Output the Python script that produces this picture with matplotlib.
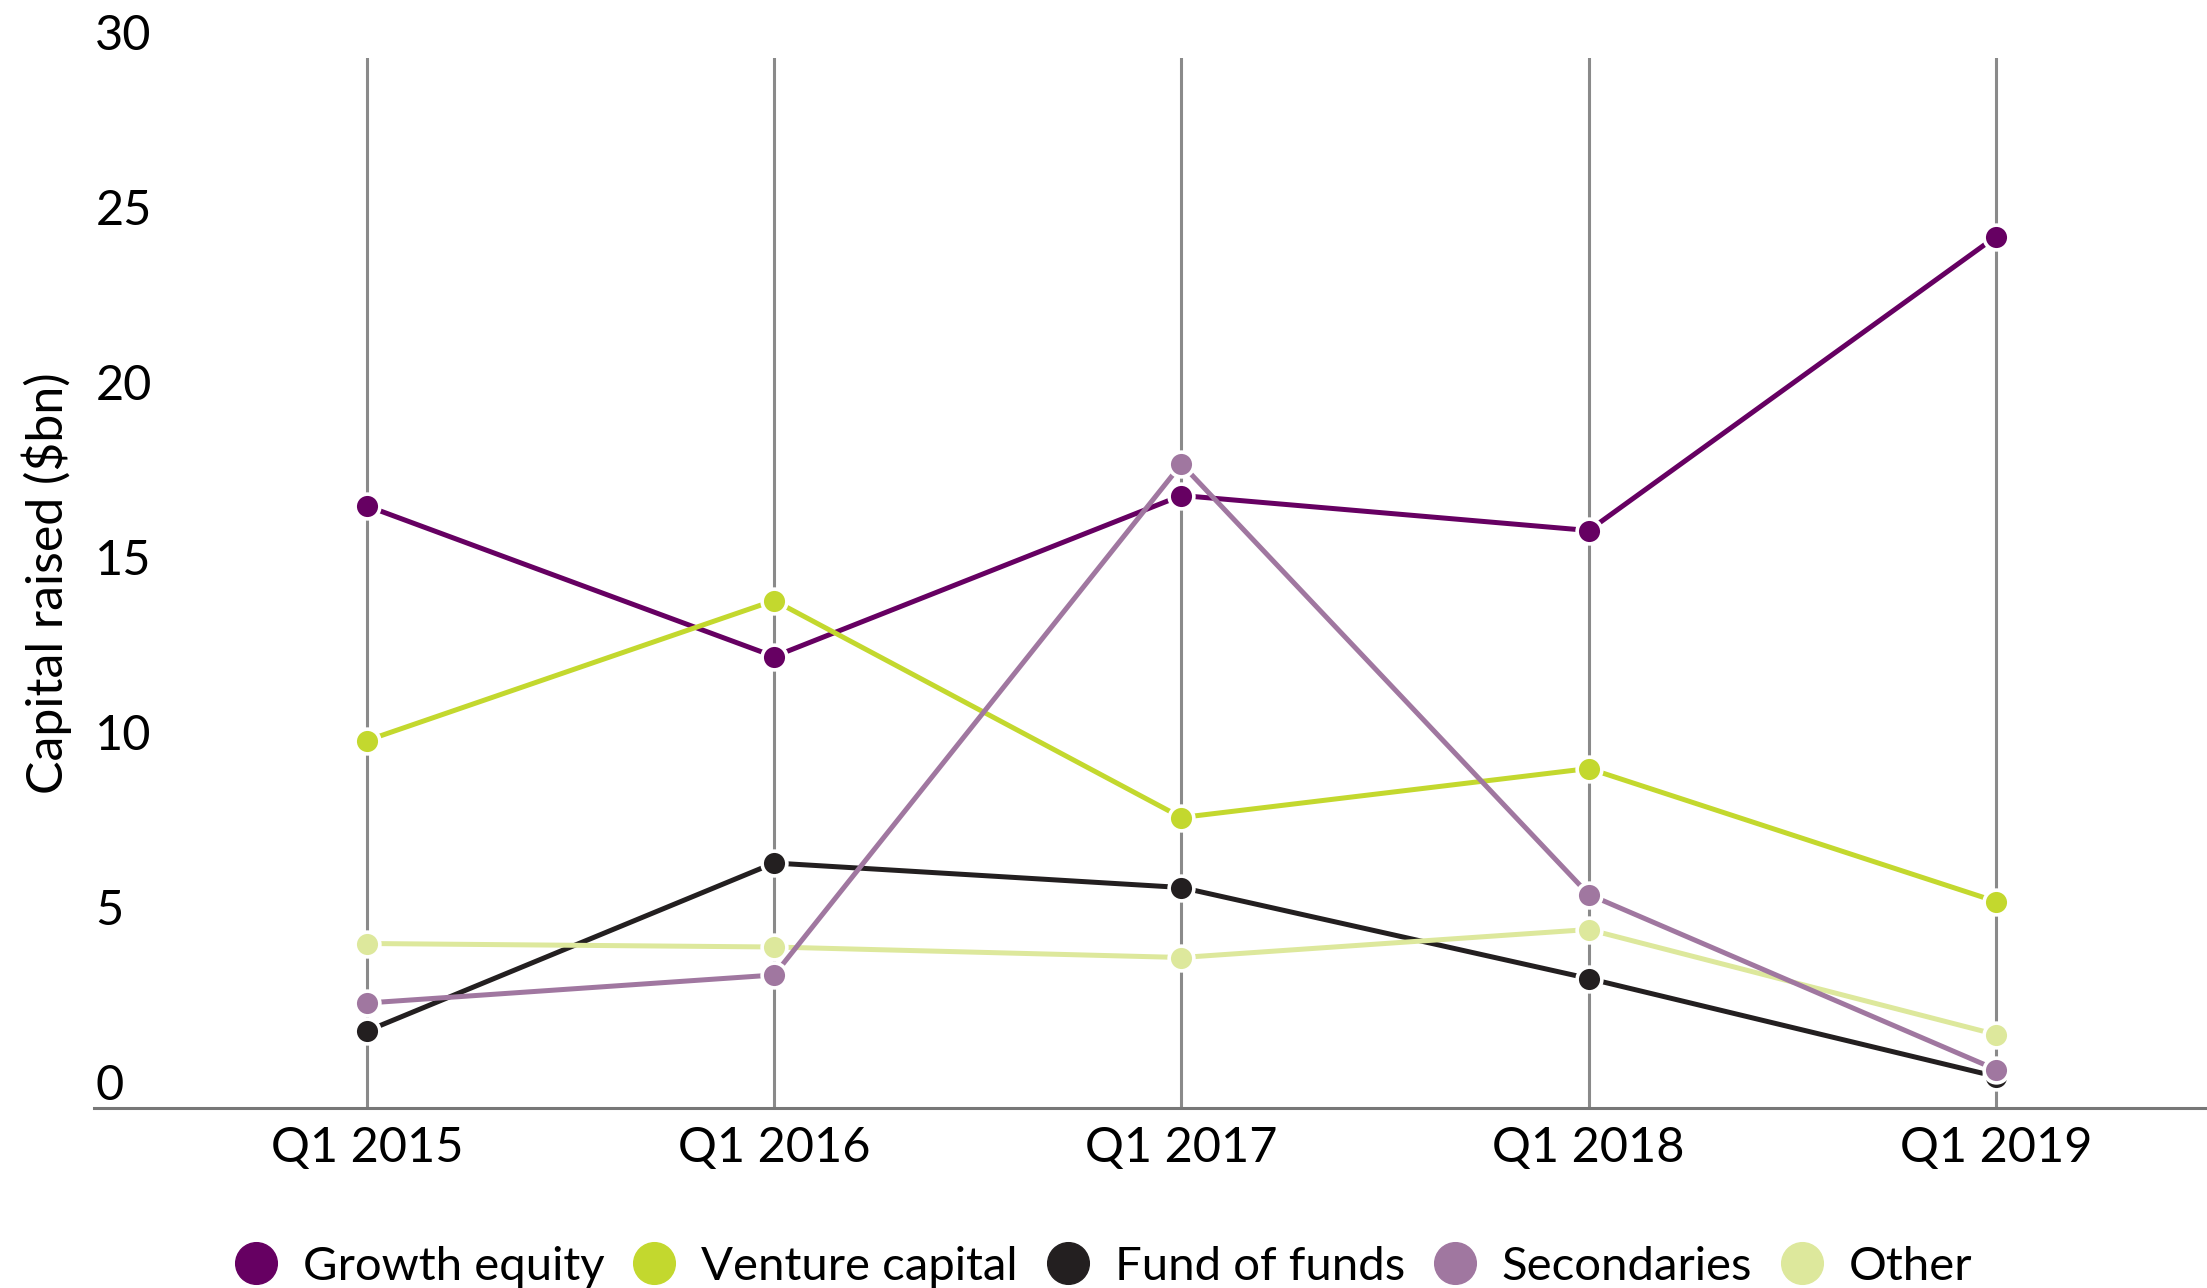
import matplotlib
matplotlib.use('Agg')
import matplotlib.pyplot as plt
from matplotlib.lines import Line2D

# data
quarters = ['Q1 2015', 'Q1 2016', 'Q1 2017', 'Q1 2018', 'Q1 2019']
growth_equity = [17.2, 12.9, 17.5, 16.5, 24.9]
venture_capital = [10.5, 14.5, 8.3, 9.7, 5.9]
fund_of_funds = [2.2, 7.0, 6.3, 3.7, 0.9]
other = [4.7, 4.6, 4.3, 5.1, 2.1]
secondaries = [3.0, 3.8, 18.4, 6.1, 1.1]

series_names = ['Growth equity', 'Venture capital', 'Fund of funds', 'Secondaries', 'Other']
series_colors = {
    'Growth equity': '#660062',
    'Venture capital': '#c3d82e',
    'Fund of funds': '#231f20',
    'Secondaries': '#a077a0',
    'Other': '#dde89c',
}
# drawing order (later on top)
draw_order = [
    ('Growth equity', growth_equity),
    ('Venture capital', venture_capital),
    ('Fund of funds', fund_of_funds),
    ('Other', other),
    ('Secondaries', secondaries),
]

plt.rcParams['font.family'] = ['Lato', 'DejaVu Sans']

fig = plt.figure(figsize=(22.07, 12.88), dpi=100)
ax = fig.add_axes([94 / 2207, 180 / 1288, 2113 / 2207, 1050 / 1288])

x = list(range(len(quarters)))
for z, (name, vals) in enumerate(draw_order):
    ax.plot(
        x, vals,
        color=series_colors[name],
        lw=3.6,
        marker='o',
        ms=17.8,
        mfc=series_colors[name],
        mec='white',
        mew=2.6,
        zorder=3 + z,
        clip_on=False,
    )

ax.set_xlim(-0.670, 4.518)
ax.set_ylim(0, 30)

ax.set_xticks(x)
ax.set_xticklabels(quarters)
ax.set_yticks(range(0, 31, 5))
ax.tick_params(axis='x', length=0, pad=13, labelsize=35, colors='black')
ax.tick_params(axis='y', length=0, pad=-1, labelsize=35, colors='black')
for lab in ax.get_yticklabels():
    lab.set_horizontalalignment('left')
    lab.set_verticalalignment('bottom')

ax.grid(axis='x', color='#8a8a8a', lw=2.2)
ax.grid(axis='y', visible=False)
ax.set_axisbelow(True)

for s in ['top', 'right', 'left']:
    ax.spines[s].set_visible(False)
ax.spines['bottom'].set_color('#777777')
ax.spines['bottom'].set_linewidth(2.2)

ax.set_ylabel('Capital raised ($bn)', fontsize=36)
ax.yaxis.set_label_coords(-0.0105, 0.5)

handles = [
    Line2D([], [], ls='', marker='o', ms=30, color=series_colors[n], mec=series_colors[n])
    for n in series_names
]
fig.legend(
    handles, series_names,
    loc='center', bbox_to_anchor=(0.5, 21 / 1288), ncol=5, frameon=False,
    fontsize=34, handlelength=0.9, handletextpad=0.55, columnspacing=0.6,
    borderpad=0, borderaxespad=0,
)

fig.savefig('out.png', dpi=100)
